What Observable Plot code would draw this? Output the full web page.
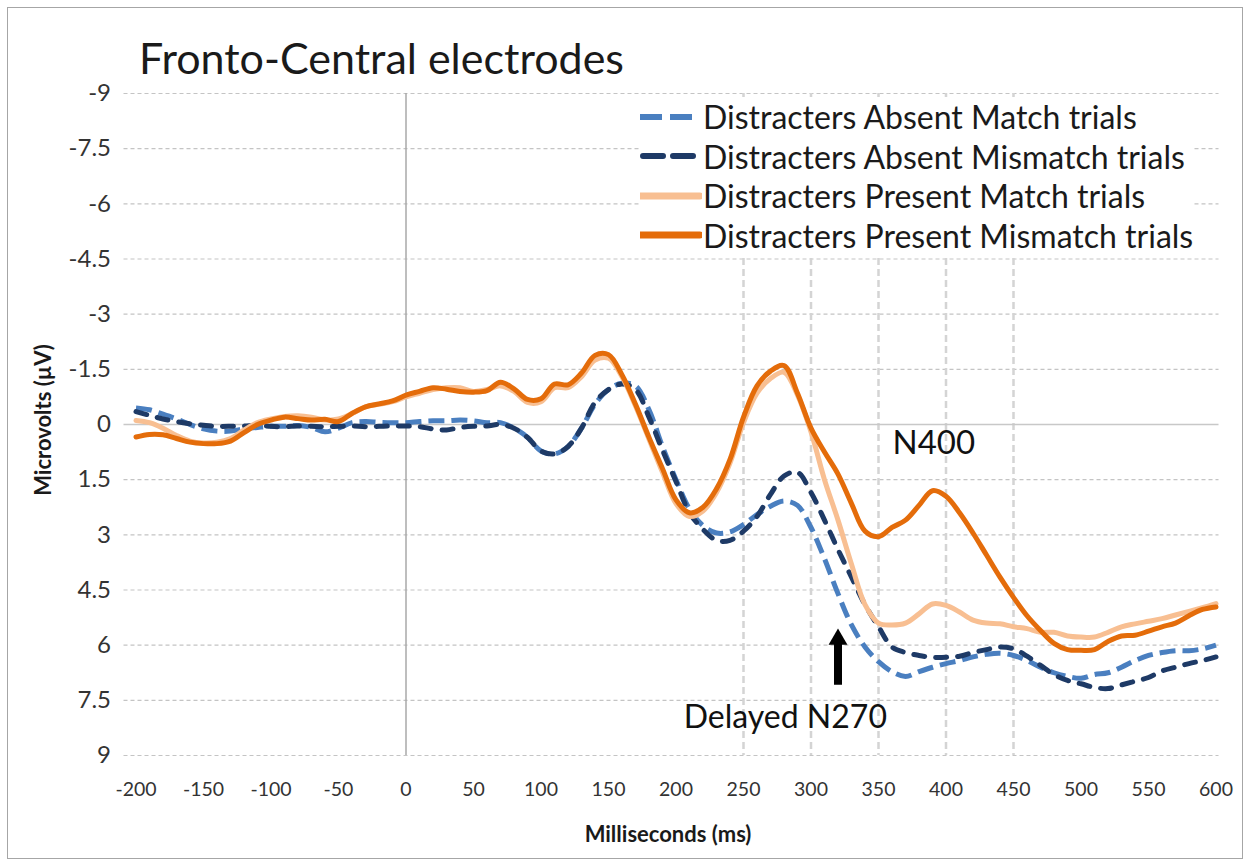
<!DOCTYPE html>
<html>
<head>
<meta charset="utf-8">
<script src="https://cdn.jsdelivr.net/npm/d3@7"></script>
<script src="https://cdn.jsdelivr.net/npm/@observablehq/plot@0.6"></script>
<style>
  html, body { margin: 0; padding: 0; background: #fff; }
  #wrap { position: relative; width: 1250px; height: 866px; font-family: Lato, "Open Sans", sans-serif; color: #1a1a1a; overflow: hidden; }
  #frame { position: absolute; left: 7px; top: 7px; width: 1236px; height: 852px; border: 1px solid #a6a6a6; box-sizing: border-box; }
  #title { position: absolute; left: 139px; top: 33px; font-size: 43px; line-height: 50px; color: #1a1a1a; white-space: nowrap; }
  #ylabel { position: absolute; left: 42px; top: 420px; transform: translate(-50%, -50%) rotate(-90deg); font-size: 22px; font-weight: bold; white-space: nowrap; color: #1a1a1a; }
  #xlabel { position: absolute; left: 668px; top: 833px; transform: translate(-50%, -50%); font-size: 22px; font-weight: bold; white-space: nowrap; color: #1a1a1a; }
  #legend { position: absolute; left: 640px; top: 97px; background: #fff; }
  .lrow { display: flex; align-items: center; height: 39.5px; font-size: 32px; white-space: nowrap; color: #1a1a1a; }
  .lrow svg { margin-right: 1px; }
  #chart { position: absolute; left: 0; top: 0; }
</style>
</head>
<body>
<div id="wrap">
  <div id="frame"></div>
  <div id="chart"></div>
  <div id="title">Fronto-Central electrodes</div>
  <div id="ylabel">Microvolts (µV)</div>
  <div id="xlabel">Milliseconds (ms)</div>
  <div id="legend"></div>
</div>
<script>
// ---- Data ----
const times = d3.range(-200, 601, 10); // ms, every 10 ms

const absentMatch = [
  -0.45,-0.40,-0.28,-0.15,0.00,0.12,0.18,0.18,0.12,0.08,
  0.05,0.05,0.03,0.08,0.20,0.10,-0.05,-0.08,-0.06,-0.05,
  -0.05,-0.08,-0.10,-0.10,-0.12,-0.10,-0.05,-0.05,0.10,0.35,
  0.72,0.80,0.60,0.10,-0.55,-0.95,-1.12,-1.05,-0.40,0.60,
  1.50,2.30,2.75,2.95,2.92,2.72,2.45,2.22,2.08,2.20,
  2.80,3.65,4.60,5.45,6.05,6.45,6.72,6.85,6.72,6.60,
  6.50,6.42,6.32,6.25,6.22,6.28,6.42,6.60,6.75,6.85,
  6.90,6.80,6.75,6.60,6.42,6.28,6.20,6.15,6.15,6.10,
  6.00
];
const absentMismatch = [
  -0.35,-0.25,-0.15,-0.08,-0.02,0.02,0.05,0.05,0.04,0.02,
  0.05,0.06,0.04,0.05,0.06,0.05,0.04,0.06,0.05,0.04,
  0.04,0.06,0.12,0.15,0.08,0.05,0.04,0.00,0.10,0.35,
  0.72,0.80,0.60,0.10,-0.60,-0.95,-1.10,-0.95,-0.20,0.70,
  1.55,2.40,2.85,3.15,3.15,2.90,2.50,1.90,1.40,1.30,
  1.85,2.60,3.40,4.15,4.90,5.50,6.05,6.20,6.28,6.33,
  6.33,6.30,6.20,6.12,6.05,6.10,6.30,6.55,6.80,6.96,
  7.05,7.15,7.18,7.08,6.98,6.88,6.70,6.60,6.50,6.42,
  6.32
];
const presentMatch = [
  -0.11,-0.05,0.10,0.30,0.45,0.50,0.48,0.38,0.15,-0.05,
  -0.15,-0.22,-0.24,-0.20,-0.12,-0.15,-0.30,-0.48,-0.55,-0.62,
  -0.75,-0.85,-0.95,-1.00,-1.00,-0.90,-0.95,-1.05,-0.90,-0.60,
  -0.62,-1.00,-1.00,-1.30,-1.75,-1.80,-1.30,-0.50,0.40,1.30,
  2.15,2.50,2.35,1.85,1.05,-0.05,-0.85,-1.25,-1.42,-0.80,
  0.20,1.50,2.60,3.80,4.90,5.40,5.45,5.40,5.15,4.88,
  4.92,5.10,5.32,5.40,5.42,5.50,5.55,5.65,5.65,5.75,
  5.78,5.78,5.65,5.50,5.42,5.35,5.28,5.18,5.08,4.98,
  4.87
];
const presentMismatch = [
  0.34,0.27,0.28,0.38,0.48,0.52,0.52,0.45,0.22,0.00,
  -0.12,-0.20,-0.16,-0.12,-0.14,-0.08,-0.30,-0.48,-0.56,-0.64,
  -0.80,-0.90,-1.00,-0.96,-0.90,-0.88,-0.92,-1.15,-0.97,-0.68,
  -0.70,-1.10,-1.08,-1.40,-1.88,-1.90,-1.35,-0.55,0.35,1.20,
  2.05,2.40,2.25,1.75,0.95,-0.20,-1.05,-1.45,-1.60,-0.85,
  0.10,0.75,1.35,2.15,2.90,3.05,2.80,2.60,2.20,1.80,
  1.95,2.40,2.95,3.55,4.15,4.70,5.20,5.60,5.95,6.12,
  6.14,6.12,5.90,5.75,5.73,5.62,5.50,5.40,5.20,5.03,
  4.96
];

const seriesNames = [
  "Distracters Absent Match trials",
  "Distracters Absent Mismatch trials",
  "Distracters Present Match trials",
  "Distracters Present Mismatch trials"
];
const seriesColors = ["#4a7fc0", "#1e3a66", "#f8bf92", "#e46c0a"];

const xTicks = [-200,-150,-100,-50,0,50,100,150,200,250,300,350,400,450,500,550,600];
const yTicks = [-9,-7.5,-6,-4.5,-3,-1.5,0,1.5,3,4.5,6,7.5,9];
const markedTimes = [250,300,350,400,450];

const annotations = [
  {t: 391, v: 0.52, label: "N400", size: 33},
  {t: 281, v: 7.96, label: "Delayed N270", size: 32}
];
const arrowAt = {t: 320, tip: 5.84, base: 7.09};

// ---- Build ----
const allValues = [absentMatch, absentMismatch, presentMatch, presentMismatch];
const series = allValues.map((vals, i) => times.map((t, j) => ({t, v: vals[j], s: seriesNames[i]})));

const styles = [
  {stroke: seriesColors[0], strokeWidth: 5, strokeDasharray: "16,7", strokeLinecap: "butt"},
  {stroke: seriesColors[1], strokeWidth: 5, strokeDasharray: "11,11", strokeLinecap: "round"},
  {stroke: seriesColors[2], strokeWidth: 5, strokeLinecap: "round"},
  {stroke: seriesColors[3], strokeWidth: 5, strokeLinecap: "round"}
];

const chart = Plot.plot({
  width: 1250,
  height: 866,
  marginTop: 93,
  marginBottom: 111,
  marginLeft: 135.5,
  marginRight: 34.5,
  x: {domain: [-200, 600], axis: null},
  y: {domain: [-9, 9], reverse: true, axis: null},
  style: {fontFamily: "Lato, 'Open Sans', sans-serif", background: "transparent"},
  marks: [
    Plot.ruleY(yTicks.filter(d => d !== 0), {stroke: "#c4c4c4", strokeWidth: 1.2, strokeDasharray: "4,3", insetLeft: -12, insetRight: -3}),
    Plot.ruleX(markedTimes, {stroke: "#d4d4d4", strokeWidth: 2.5, strokeDasharray: "7,4"}),
    Plot.ruleY([0], {stroke: "#c8c8c8", strokeWidth: 1.5, insetLeft: -12, insetRight: -3}),
    Plot.ruleX([0], {stroke: "#a8a8a8", strokeWidth: 1.5}),
    ...series.map((data, i) => Plot.line(data, {x: "t", y: "v", curve: "catmull-rom", ...styles[i]})),
    Plot.ruleX([arrowAt], {x: "t", y1: "tip", y2: "base", stroke: "#000", strokeWidth: 8}),
    Plot.dot([arrowAt], {x: "t", y: "tip", symbol: "triangle", r: 7, fill: "#000", stroke: "none"}),
    ...annotations.map(a => Plot.text([a], {x: "t", y: "v", text: "label", fontSize: a.size, fill: "#111", textAnchor: "middle"})),
    // tick labels
    Plot.text(xTicks, {x: d => d, text: d => String(d), frameAnchor: "bottom", lineAnchor: "middle", dy: 34, fontSize: 19.5, fill: "#333"}),
    Plot.text(yTicks, {y: d => d, text: d => String(d), frameAnchor: "left", textAnchor: "end", dx: -25, fontSize: 24, fill: "#333"})
  ]
});
document.getElementById("chart").append(chart);

// ---- Legend ----
const legend = document.getElementById("legend");
seriesNames.forEach((name, i) => {
  const row = document.createElement("div");
  row.className = "lrow";
  const st = styles[i];
  const dash = i === 0 ? "22,8" : i === 1 ? "20,10" : "";
  row.innerHTML = `<svg width="62" height="12"><line x1="${i===1?3:0}" x2="${i===1?58:60}" y1="6" y2="6" stroke="${st.stroke}" stroke-width="${i>=2?7:6}" stroke-linecap="${st.strokeLinecap}" ${dash ? `stroke-dasharray="${dash}"` : ""}/></svg><span>${name}</span>`;
  legend.append(row);
});
</script>
</body>
</html>
